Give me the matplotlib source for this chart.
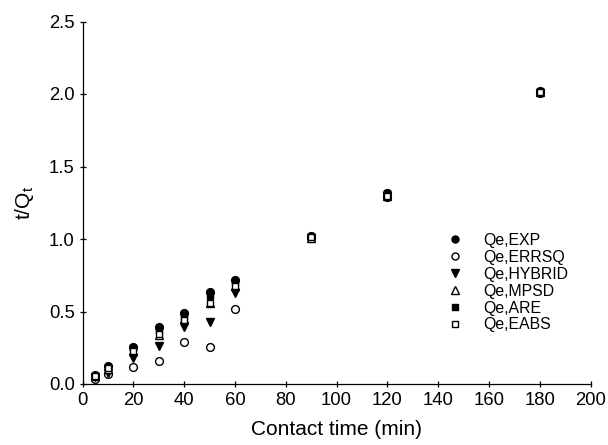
import matplotlib
matplotlib.use("Agg")
import matplotlib.pyplot as plt
from matplotlib.lines import Line2D

plt.rcParams['font.family'] = ['Liberation Sans', 'DejaVu Sans']
plt.rcParams['mathtext.fontset'] = 'custom'
plt.rcParams['mathtext.rm'] = 'Liberation Sans'

# Data
time = [5, 10, 20, 30, 40, 50, 60, 90, 120, 180]
qe_exp = [0.062, 0.124, 0.253, 0.39, 0.49, 0.635, 0.72, 1.02, 1.32, 2.02]
qe_errsq = [0.035, 0.067, 0.115, 0.16, 0.29, 0.255, 0.515, 1.01, 1.29, 2.01]
qe_hybrid = [0.045, 0.076, 0.177, 0.26, 0.395, 0.425, 0.63, 1.01, 1.30, 2.01]
qe_mpsd = [0.055, 0.105, 0.23, 0.34, 0.445, 0.56, 0.675, 1.01, 1.30, 2.015]
qe_are = [0.058, 0.118, 0.245, 0.375, 0.47, 0.61, 0.705, 1.02, 1.315, 2.02]
qe_eabs = [0.055, 0.108, 0.23, 0.342, 0.443, 0.561, 0.676, 1.015, 1.30, 2.015]

series_labels = ['Qe,EXP', 'Qe,ERRSQ', 'Qe,HYBRID', 'Qe,MPSD', 'Qe,ARE', 'Qe,EABS']
x_ticks = [0, 20, 40, 60, 80, 100, 120, 140, 160, 180, 200]
y_ticks = [0.0, 0.5, 1.0, 1.5, 2.0, 2.5]

fig = plt.figure(figsize=(6.08, 4.45), dpi=100)
ax = fig.add_axes([82.5/608, 61/445, (590.5-82.5)/608, (384-21.5)/445])

styles = [
    dict(marker='o', mfc='black', mec='black', ms=5.6),
    dict(marker='o', mfc='white', mec='black', ms=5.6),
    dict(marker='v', mfc='black', mec='black', ms=6.0),
    dict(marker='^', mfc='white', mec='black', ms=6.0),
    dict(marker='s', mfc='black', mec='black', ms=5.0),
    dict(marker='s', mfc='white', mec='black', ms=5.0),
]
data = [qe_exp, qe_errsq, qe_hybrid, qe_mpsd, qe_are, qe_eabs]

handles = []
for y, st, lab in zip(data, styles, series_labels):
    ax.plot(time, y, linestyle='none', mew=1.0, **st)
    hst = dict(st)
    hst['ms'] = st['ms'] * 0.9
    handles.append(Line2D([], [], linestyle='none', mew=1.0, label=lab, **hst))

ax.set_xlim(0, 200)
ax.set_ylim(0, 2.5)
ax.set_xticks(x_ticks)
ax.set_yticks(y_ticks)
ax.set_yticklabels([f"{v:.1f}" for v in y_ticks])
for s in ['top', 'right']:
    ax.spines[s].set_visible(False)
for s in ['left', 'bottom']:
    ax.spines[s].set_linewidth(0.9)
ax.tick_params(direction='inout', length=5, width=0.9, labelsize=13.3, pad=3)

ax.set_xlabel('Contact time (min)', fontsize=15, labelpad=8.5)
ax.set_ylabel(r't/Q$_\mathregular{t}$', fontsize=15, labelpad=9.5)

fig.legend(handles=handles, loc='upper left', bbox_to_anchor=(447/608, (445-233)/445),
           frameon=False, fontsize=11.4, borderpad=0, handlelength=1.0,
           handletextpad=1.27, labelspacing=0.12, borderaxespad=0)

fig.savefig('out.png', dpi=100)
